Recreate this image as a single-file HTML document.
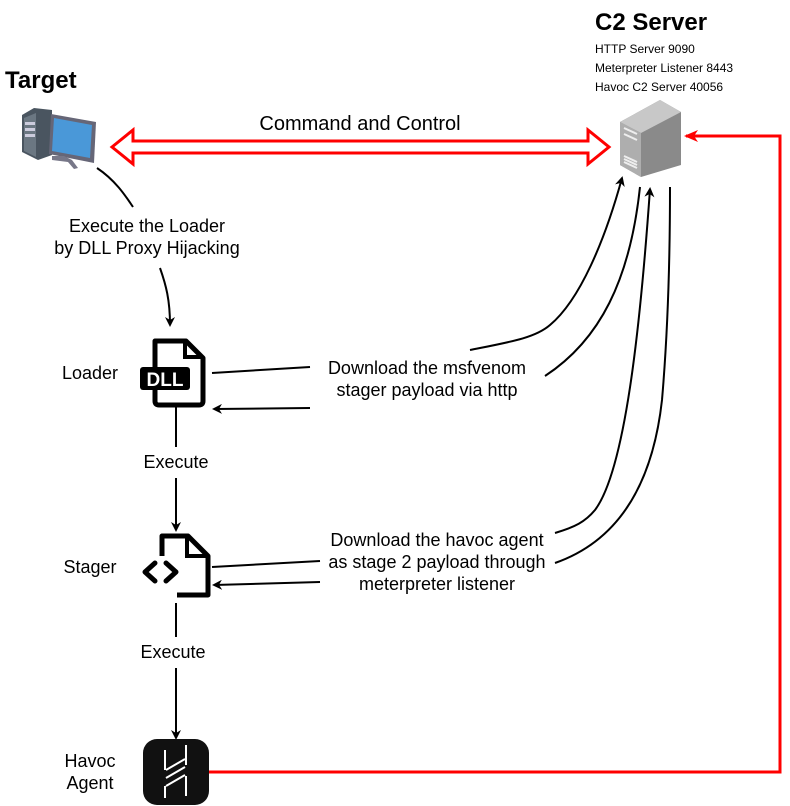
<html><body style="margin:0;background:#fff">
<svg width="790" height="806" xmlns="http://www.w3.org/2000/svg" font-family="Liberation Sans, sans-serif">
<defs>
<marker id="a" markerWidth="10" markerHeight="10" refX="8" refY="5" orient="auto" markerUnits="userSpaceOnUse"><path d="M0,0 L10,5 L0,10 L3,5z" fill="#000"/></marker>
<marker id="r" markerWidth="14" markerHeight="12" refX="12" refY="6" orient="auto" markerUnits="userSpaceOnUse"><path d="M0,0 L14,6 L0,12 L4,6z" fill="#f00"/></marker>
</defs>
<text x="5" y="88" font-size="24" font-weight="bold">Target</text>
<text x="595" y="30" font-size="24" font-weight="bold">C2 Server</text>
<text x="595" y="53" font-size="12">HTTP Server 9090</text>
<text x="595" y="72" font-size="12">Meterpreter Listener 8443</text>
<text x="595" y="91" font-size="12">Havoc C2 Server 40056</text>
<!-- target PC -->
<path d="M22,115 L34,108 L52,110 L52,155 L38,160 L22,152z" fill="#4a5560"/>
<path d="M24,118 L36,113 L36,157 L24,151z" fill="#6b7782"/>
<rect x="25" y="122" width="10" height="3" fill="#ccd"/><rect x="25" y="128" width="10" height="3" fill="#ccd"/><rect x="25" y="134" width="10" height="3" fill="#ccd"/>
<path d="M51,114 L96,122 L94,163 L49,154z" fill="#667"/>
<path d="M54,118 L92,125 L90,158 L52,151z" fill="#4a98d8"/>
<path d="M64,156 L72,160 L78,168 L74,169 L68,162 L52,160 L52,156z" fill="#778"/>
<!-- server -->
<path d="M620,122 L660,100 L681,112 L681,165 L641,177 L620,165z" fill="#8a8a8a"/>
<path d="M620,122 L660,100 L681,112 L641,133z" fill="#c8c8c8"/>
<path d="M620,122 L641,133 L641,177 L620,165z" fill="#aeaeae"/>
<path d="M624,128 L637,134 M624,134 L637,140 M624,156 L637,162 M624,159 L637,165 M624,162 L637,168" stroke="#eee" stroke-width="2"/>
<!-- command arrow -->
<path d="M112,147 L133,130 L133,141 L588,141 L588,130 L609,147 L588,164 L588,153 L133,153 L133,164z" fill="#fff" stroke="#f00" stroke-width="3"/>
<text x="360" y="130" font-size="20" text-anchor="middle">Command and Control</text>
<!-- loader curve -->
<path d="M97,168 C115,180 125,195 133,207" fill="none" stroke="#000" stroke-width="2"/>
<text x="147" y="232" font-size="18" text-anchor="middle">Execute the Loader</text>
<text x="147" y="254" font-size="18" text-anchor="middle">by DLL Proxy Hijacking</text>
<path d="M160,268 C166,285 170,300 170,325" fill="none" stroke="#000" stroke-width="2" marker-end="url(#a)"/>
<text x="90" y="379" font-size="18" text-anchor="middle">Loader</text>
<text x="90" y="573" font-size="18" text-anchor="middle">Stager</text>
<text x="90" y="767" font-size="18" text-anchor="middle">Havoc</text>
<text x="90" y="789" font-size="18" text-anchor="middle">Agent</text>
<!-- DLL icon -->
<path d="M155,341 L186,341 L203,358 L203,401 Q203,405 199,405 L159,405 Q155,405 155,401z" fill="none" stroke="#000" stroke-width="5" stroke-linejoin="round"/>
<path d="M185,341 L185,357 L203,357" fill="none" stroke="#000" stroke-width="4"/>
<rect x="140" y="367" width="50" height="23" rx="3" fill="#000"/>
<text x="165" y="386" font-size="19" font-weight="bold" fill="#fff" text-anchor="middle">DLL</text>
<line x1="176" y1="407" x2="176" y2="447" stroke="#000" stroke-width="2"/>
<text x="176" y="468" font-size="18" text-anchor="middle">Execute</text>
<line x1="176" y1="478" x2="176" y2="530" stroke="#000" stroke-width="2" marker-end="url(#a)"/>
<!-- stager icon -->
<path d="M162,556 L162,536 L188,536 L208,556 L208,595 L177,595" fill="none" stroke="#000" stroke-width="5" stroke-linejoin="round"/>
<path d="M187,536 L187,556 L208,556" fill="none" stroke="#000" stroke-width="4"/>
<path d="M155,563 L145,572 L155,581 M166,563 L176,572 L166,581" fill="none" stroke="#000" stroke-width="5" stroke-linecap="round" stroke-linejoin="round"/>
<line x1="176" y1="603" x2="176" y2="637" stroke="#000" stroke-width="2"/>
<text x="173" y="658" font-size="18" text-anchor="middle">Execute</text>
<line x1="176" y1="668" x2="176" y2="738" stroke="#000" stroke-width="2" marker-end="url(#a)"/>
<!-- havoc icon -->
<rect x="143" y="739" width="66" height="66" rx="14" fill="#111"/>
<path d="M165,750 L165,770 M186,745 L186,765 M165,786 L165,798 M186,776 L186,796 M166,770 L185,759 M166,778 L185,767 M166,786 L185,775" stroke="#fff" stroke-width="2"/>
<!-- red return -->
<path d="M209,772 L780,772 L780,136 L686,136" fill="none" stroke="#f00" stroke-width="3" marker-end="url(#r)"/>
<!-- download texts -->
<text x="427" y="374" font-size="18" text-anchor="middle">Download the msfvenom</text>
<text x="427" y="396" font-size="18" text-anchor="middle">stager payload via http</text>
<text x="437" y="546" font-size="18" text-anchor="middle">Download the havoc agent</text>
<text x="437" y="568" font-size="18" text-anchor="middle">as stage 2 payload through</text>
<text x="437" y="590" font-size="18" text-anchor="middle">meterpreter listener</text>
<line x1="212" y1="373" x2="310" y2="367" stroke="#000" stroke-width="2"/>
<line x1="310" y1="408" x2="214" y2="409" stroke="#000" stroke-width="2" marker-end="url(#a)"/>
<line x1="212" y1="567" x2="320" y2="561" stroke="#000" stroke-width="2"/>
<line x1="320" y1="582" x2="214" y2="585" stroke="#000" stroke-width="2" marker-end="url(#a)"/>
<path d="M470,350 C510,342 535,338 550,325 C580,300 605,240 622,178" fill="none" stroke="#000" stroke-width="2" marker-end="url(#a)"/>
<path d="M545,376 C600,340 630,280 640,187" fill="none" stroke="#000" stroke-width="2"/>
<path d="M555,533 C575,527 585,522 595,510 C625,470 640,330 650,189" fill="none" stroke="#000" stroke-width="2" marker-end="url(#a)"/>
<path d="M555,563 C615,542 652,490 662,400 C668,330 670,250 670,187" fill="none" stroke="#000" stroke-width="2"/>
</svg>
</body></html>
